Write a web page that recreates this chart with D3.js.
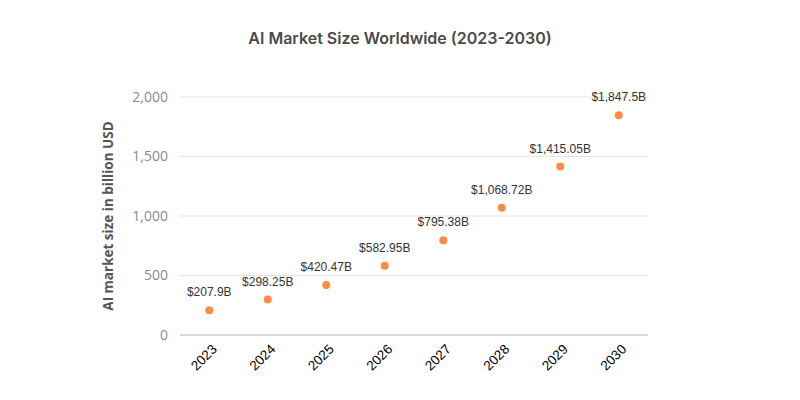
<!DOCTYPE html>
<html><head><meta charset="utf-8">
<script src="https://cdn.jsdelivr.net/npm/d3@7"></script>
<style>body{margin:0;background:#fff}</style>
</head><body><svg id="c" width="800" height="400"></svg>
<script>
const years = ["2023","2024","2025","2026","2027","2028","2029","2030"];
const values = [207.9, 298.25, 420.47, 582.95, 795.38, 1068.72, 1415.05, 1847.5];
const labels = ["$207.9B","$298.25B","$420.47B","$582.95B","$795.38B","$1,068.72B","$1,415.05B","$1,847.5B"];
const yTicks = [0, 500, 1000, 1500, 2000];

(function(){
const svg = d3.select("#c");
const mLeft = 180, mRight = 648, mTop = 97, mBottom = 335;
const x = d3.scalePoint().domain(years).range([mLeft, mRight]).padding(0.5);
const y = d3.scaleLinear().domain([0, 2000]).range([mBottom, mTop]);

svg.append("text").attr("x", 400).attr("y", 44).attr("text-anchor", "middle")
  .attr("font-family", "Inter, 'Open Sans', sans-serif").attr("font-weight", 600)
  .attr("font-size", 16).attr("fill", "#4a4a4a").text("AI Market Size Worldwide (2023-2030)");

const g = svg.append("g");
g.selectAll("line.grid").data(yTicks).join("line")
  .attr("x1", mLeft).attr("x2", mRight).attr("y1", d => y(d)).attr("y2", d => y(d))
  .attr("stroke", d => d === 0 ? "#cfcfcf" : "#e2e2e2").attr("stroke-width", d => d === 0 ? 1.5 : 1);

const yAxis = d3.axisLeft(y).tickValues(yTicks).tickFormat(d3.format(",")).tickSize(0).tickPadding(0);
const ya = svg.append("g").attr("transform", `translate(${mLeft - 12},0)`).call(yAxis);
ya.select(".domain").remove();
ya.selectAll("text").attr("font-family", "'Open Sans', sans-serif").attr("font-size", 14).attr("fill", "#8a8a8a");

const xAxis = d3.axisBottom(x).tickSize(0).tickPadding(0);
const xa = svg.append("g").attr("transform", `translate(0,${mBottom})`).call(xAxis);
xa.select(".domain").remove();
xa.selectAll("text").attr("font-family", "'Liberation Sans', Arial, sans-serif").attr("font-size", 13.5)
  .attr("fill", "#000").attr("text-anchor", "end").attr("dy", null).attr("y", 0)
  .attr("transform", "translate(8,15) rotate(-45)");

svg.append("text").attr("transform", `translate(113,${(mTop+mBottom)/2}) rotate(-90)`)
  .attr("text-anchor", "middle").attr("font-family", "'Open Sans', sans-serif").attr("font-weight", 700)
  .attr("font-size", 13.5).attr("fill", "#555").text("AI market size in billion USD");

svg.selectAll("circle.pt").data(values).join("circle")
  .attr("cx", (d, i) => x(years[i])).attr("cy", d => y(d)).attr("r", 4).attr("fill", "#ff8c42");

svg.selectAll("text.lbl").data(values).join("text")
  .attr("x", (d, i) => x(years[i])).attr("y", d => y(d) - 14).attr("text-anchor", "middle")
  .attr("font-family", "'Liberation Sans', Arial, sans-serif").attr("font-size", 12).attr("fill", "#333")
  .text((d, i) => labels[i]);
})();
</script></body></html>
